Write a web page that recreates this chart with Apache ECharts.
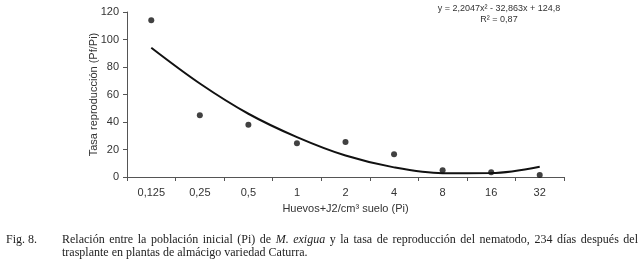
<!DOCTYPE html>
<html>
<head>
<meta charset="utf-8">
<script src="https://cdn.jsdelivr.net/npm/echarts@6/dist/echarts.min.js"></script>
<style>
  html, body { margin: 0; padding: 0; background: #fff; }
  #chart { position: absolute; left: 0; top: 0; width: 642px; height: 261px; }
  .cap { position: absolute; font-family: "Liberation Serif", "DejaVu Serif", serif; font-size: 12px; color: #222; line-height: 13px; }
</style>
</head>
<body>
<div id="chart"></div>
<div class="cap" style="left:6px; top:233px;">Fig. 8.</div>
<div class="cap" style="left:62px; top:233px; width:576px;">
  <div style="text-align:justify; text-align-last:justify; white-space:nowrap;">Relación entre la población inicial (Pi) de <i>M. exigua</i> y la tasa de reproducción del nematodo, 234 días después del</div>
  <div>trasplante en plantas de almácigo variedad Caturra.</div>
</div>
<script>
// categorias del eje x (Pi)
const categories = ["0,125", "0,25", "0,5", "1", "2", "4", "8", "16", "32"];
// valores observados Pf/Pi
const observed = [114, 45, 38, 24.5, 25.5, 16.5, 5, 3.5, 1.5];
// curva de tendencia polinómica
const trend = [94, 68, 46, 29, 15.6, 7, 2.8, 2.9, 7.5];
const yTicks = [0, 20, 40, 60, 80, 100, 120];

let myChart = echarts.init(document.getElementById("chart"));
myChart.setOption({
  animation: false,
  grid: {
    left: 127,
    right: 78,
    top: 12,
    bottom: 84,
  },
  xAxis: {
    type: "category",
    data: categories,
    boundaryGap: true,
    name: "Huevos+J2/cm³ suelo (Pi)",
    nameLocation: "middle",
    nameGap: 26,
    nameTextStyle: { color: "#333", fontSize: 11, fontFamily: "Liberation Sans" },
    axisLine: { lineStyle: { color: "#555", width: 1 } },
    axisTick: { show: true, inside: false, length: 4, lineStyle: { color: "#555" } },
    axisLabel: { color: "#333", fontSize: 11, fontFamily: "Liberation Sans", margin: 10, interval: 0 },
    splitLine: { show: false },
  },
  yAxis: {
    type: "value",
    min: yTicks[0],
    max: yTicks[yTicks.length - 1],
    interval: 20,
    name: "Tasa reproducción (Pf/Pi)",
    nameLocation: "middle",
    nameGap: 28,
    nameMoveOverlap: false,
    nameRotate: 90,
    nameTextStyle: { color: "#333", fontSize: 11, fontFamily: "Liberation Sans" },
    axisLine: { show: true, lineStyle: { color: "#555", width: 1 } },
    axisTick: { show: true, length: 4, lineStyle: { color: "#555" } },
    axisLabel: { color: "#333", fontSize: 11, fontFamily: "Liberation Sans", margin: 8 },
    splitLine: { show: false },
  },
  series: [
    {
      name: "tendencia",
      type: "line",
      data: trend,
      smooth: 0.35,
      symbol: "none",
      lineStyle: { color: "#111", width: 2 },
      z: 2,
    },
    {
      name: "observado",
      type: "scatter",
      data: observed,
      symbol: "circle",
      symbolSize: 6,
      itemStyle: { color: "#111" },
      z: 3,
    },
  ],
  graphic: [
    {
      type: "text",
      x: 499,
      y: 3,
      style: {
        text: "y = 2,2047x² - 32,863x + 124,8\nR² = 0,87",
        align: "center",
        fill: "#333",
        font: "9px 'Liberation Sans'",
        lineHeight: 11,
      },
    },
  ],
});
</script>
</body>
</html>
